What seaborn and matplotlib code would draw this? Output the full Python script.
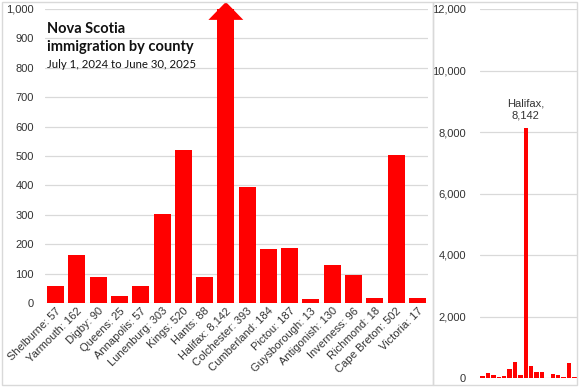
import matplotlib
matplotlib.use("Agg")
import matplotlib.pyplot as plt
from matplotlib.patches import Rectangle
import seaborn as sns
import pandas as pd

# immigration by county, July 1 2024 - June 30 2025
counties = ["Shelburne", "Yarmouth", "Digby", "Queens", "Annapolis", "Lunenburg",
            "Kings", "Hants", "Halifax", "Colchester", "Cumberland", "Pictou",
            "Guysborough", "Antigonish", "Inverness", "Richmond", "Cape Breton",
            "Victoria"]
immigrants = [57, 162, 90, 25, 57, 303, 520, 88, 8142, 393, 184, 187,
              13, 130, 96, 18, 502, 17]

left_ticks = list(range(0, 1001, 100))
right_ticks = list(range(0, 12001, 2000))

df = pd.DataFrame({"county": counties, "n": immigrants})
df["label"] = [f"{c}: {n:,}" for c, n in zip(counties, immigrants)]

sns.set_theme(style="white")
plt.rcParams["font.family"] = ["Liberation Sans", "DejaVu Sans"]

RED = "#ff0000"
GRID = "#d9d9d9"
W, H = 580, 388

fig = plt.figure(figsize=(5.8, 3.88), dpi=100)

# panel frames
fig.patches.append(Rectangle((2 / W, 3 / H), 431 / W, 383 / H, transform=fig.transFigure,
                             fill=False, ec=GRID, lw=1))
fig.patches.append(Rectangle((433 / W, 3 / H), 144 / W, 383 / H, transform=fig.transFigure,
                             fill=False, ec=GRID, lw=1))

ax = fig.add_axes([45 / W, 1 - 303 / H, 383 / W, 294 / H])
sns.barplot(data=df, x="label", y="n", color=RED, saturation=1, width=0.8,
            linewidth=0, ax=ax)
ax.set_ylim(0, 1000)
ax.set_xlim(-0.5, len(counties) - 0.5)
ax.set_yticks(left_ticks)
ax.set_yticklabels([f"{t:,}" for t in left_ticks])
ax.yaxis.grid(True, color=GRID, lw=0.9)
ax.set_axisbelow(True)
ax.set_xlabel("")
ax.set_ylabel("")
sns.despine(ax=ax, left=True, bottom=True)
ax.tick_params(axis="both", length=0, labelsize=8, colors="#333333")
ax.tick_params(axis="y", pad=8)
ax.tick_params(axis="x", pad=2)
plt.setp(ax.get_xticklabels(), rotation=45, ha="right", rotation_mode="anchor")

# arrow head on the truncated Halifax bar
hi = counties.index("Halifax")
top = ax.get_ylim()[1]
ax.fill([hi - 0.82, hi, hi + 0.82], [top * 0.963, top * 1.024, top * 0.963],
        color=RED, clip_on=False, lw=0, zorder=5)

ax.text(0.005, 0.955, "Nova Scotia\nimmigration by county", transform=ax.transAxes,
        fontsize=10.5, fontweight="bold", family=["Lato", "DejaVu Sans"],
        va="top", ha="left", linespacing=1.35, color="#111111")
ax.text(0.005, 0.83, "July 1, 2024 to June 30, 2025", transform=ax.transAxes,
        fontsize=8.2, family=["Lato", "DejaVu Sans"], va="top", ha="left",
        color="#111111")

ax2 = fig.add_axes([480 / W, 1 - 378 / H, 97 / W, 369 / H])
sns.barplot(data=df, x="county", y="n", color=RED, saturation=1, width=0.82,
            linewidth=0, ax=ax2)
ax2.set_ylim(0, 12000)
ax2.set_xlim(-0.5, len(counties) - 0.5)
ax2.set_yticks(right_ticks)
ax2.set_yticklabels([f"{t:,}" for t in right_ticks])
ax2.set_xticks([])
ax2.yaxis.grid(True, color=GRID, lw=0.9)
ax2.set_axisbelow(True)
ax2.set_xlabel("")
ax2.set_ylabel("")
sns.despine(ax=ax2, left=True, bottom=True)
ax2.tick_params(axis="y", length=0, labelsize=8, colors="#333333", pad=10)

ax2.annotate(f"Halifax,\n{immigrants[hi]:,}", (hi, immigrants[hi]),
             xytext=(0, 5), textcoords="offset points", ha="center", va="bottom",
             fontsize=8, color="#333333", linespacing=1.3)

fig.savefig("out.png", dpi=100)
